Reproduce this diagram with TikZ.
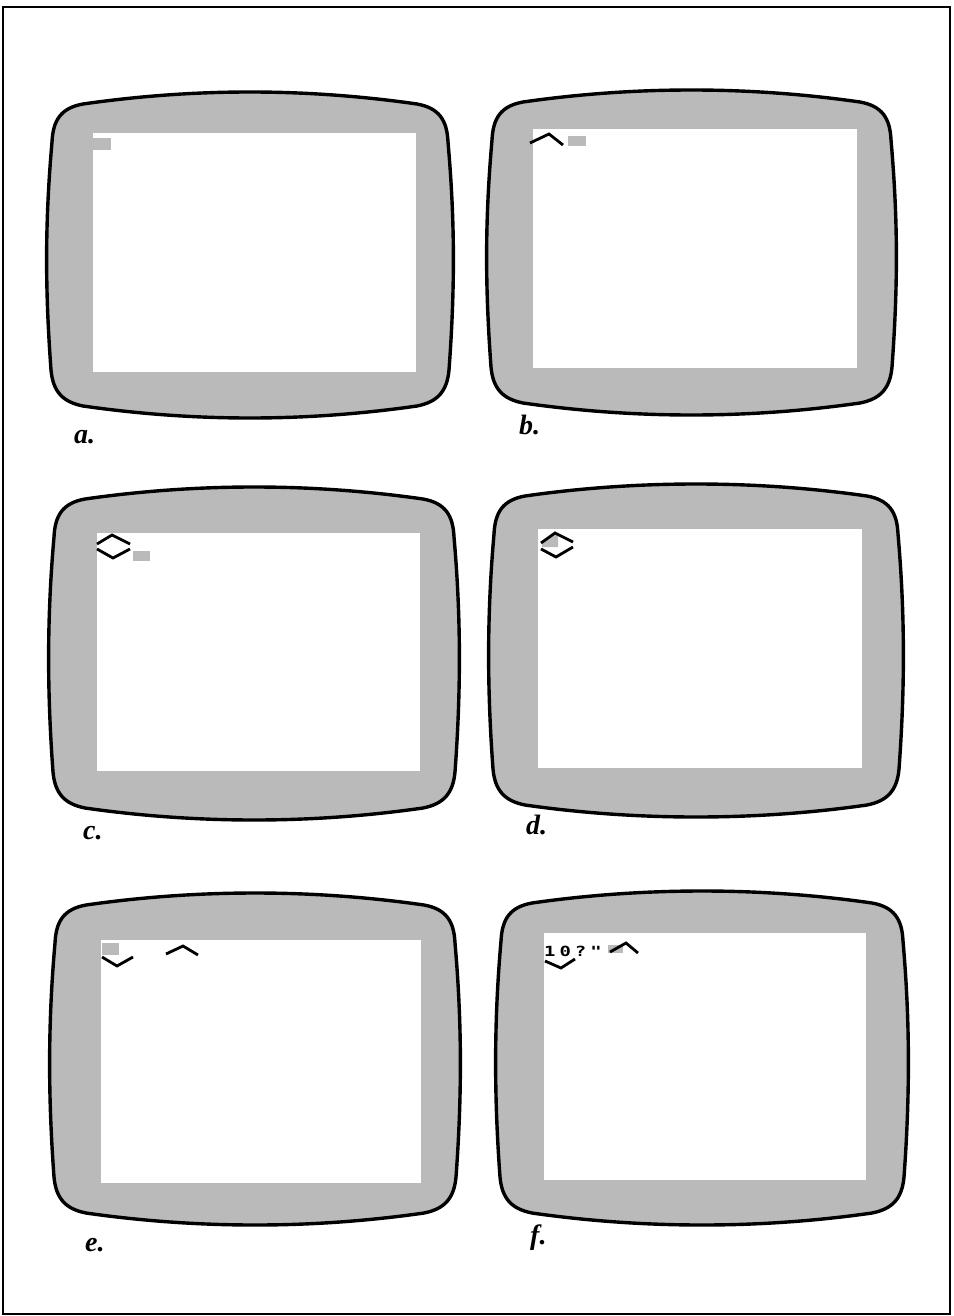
\documentclass[tikz,border=0pt]{standalone}
\usepackage{fontspec}
\setmainfont{Liberation Serif}
\newfontfamily\pixfont{DejaVu Sans Mono}
\definecolor{shade}{gray}{0.73}
\tikzset{
  bezel/.style={draw=black, line width=3.4pt, fill=shade, line join=round},
  screen/.style={fill=white, draw=none},
  cursorblk/.style={fill=shade, draw=none},
  glyph/.style={draw=black, line width=2.8pt, line join=miter, line cap=butt},
  panel/.style={font=\fontsize{28}{28}\selectfont\bfseries\itshape, anchor=base west, inner sep=0pt},
}
\newcommand\tvbezel[4]{%
  \path[bezel] ({#1+38},{#2+12}) .. controls ({#1+150},{#2-4}) and ({#3-150},{#2-4}) .. ({#3-38},{#2+12})
   .. controls ({#3-16},{#2+16}) and ({#3-8},{#2+28}) .. ({#3-7},{#2+50})
   .. controls ({#3},{#2+130}) and ({#3},{#4-130}) .. ({#3-6},{#4-48})
   .. controls ({#3-8},{#4-26}) and ({#3-18},{#4-16}) .. ({#3-38},{#4-12})
   .. controls ({#3-150},{#4+4}) and ({#1+150},{#4+4}) .. ({#1+38},{#4-12})
   .. controls ({#1+18},{#4-16}) and ({#1+8},{#4-26}) .. ({#1+6},{#4-48})
   .. controls ({#1},{#4-130}) and ({#1},{#2+130}) .. ({#1+7},{#2+50})
   .. controls ({#1+8},{#2+28}) and ({#1+16},{#2+16}) .. ({#1+38},{#2+12}) -- cycle;}
\begin{document}
\begin{tikzpicture}[x=1pt,y=-1pt]
\useasboundingbox (0,0) rectangle (953,1316);
\fill[white] (0,0) rectangle (953,1316);
\draw[line width=2pt] (3,7) rectangle (950,1314);

% a
\tvbezel{45}{92}{455}{418}
\fill[screen] (93,133) rectangle (416,372);
\fill[cursorblk] (93,138) rectangle (111,150);
\node[panel] (la) at (74,443) {a.};

% b
\tvbezel{485}{90}{898}{415}
\fill[screen] (533,129) rectangle (857,368);
\draw[glyph] (530,143) -- (549,134) -- (563,145);
\fill[cursorblk] (568,136) rectangle (586,146);
\node[panel] (lb) at (519,434) {b.};

% c
\tvbezel{47}{487}{461}{820}
\fill[screen] (97,533) rectangle (420,771);
\draw[glyph] (97,544) -- (112,535) -- (130,544);
\draw[glyph] (97,549) -- (113,558) -- (130,549);
\fill[cursorblk] (133,551) rectangle (150,561);
\node[panel] (lc) at (83,839) {c.};

% d
\tvbezel{487}{484}{905}{817}
\fill[screen] (538,529) rectangle (862,768);
\fill[cursorblk] (542,543) -- (555,534) -- (558,536) -- (558,547) -- (542,547) -- cycle;
\draw[glyph] (541,543) -- (555,533) -- (573,542);
\draw[glyph] (541,549) -- (556,557) -- (573,547);
\node[panel] (ld) at (526,834) {d.};

% e
\tvbezel{48}{893}{462}{1225}
\fill[screen] (101,940) rectangle (421,1183);
\fill[cursorblk] (102,943) rectangle (119,955);
\draw[glyph] (102,957) -- (117,966) -- (133,957);
\draw[glyph] (166,954) -- (183,946) -- (198,955);
\node[panel] (le) at (85,1251) {e.};

% f
\tvbezel{494}{891}{910}{1225}
\fill[screen] (544,933) rectangle (866,1180);
\node[font=\fontsize{14}{14}\pixfont\bfseries, anchor=base west, inner sep=0pt] (ft) at (544,956) {\scalebox{1.35}[1]{1}\kern4pt\scalebox{1.35}[1]{0}\kern4pt\scalebox{1.35}[1]{?}\kern4pt\scalebox{1.35}[1]{"}};
\fill[cursorblk] (608,945) rectangle (623,953);
\draw[glyph] (610,952) -- (626,943) -- (638,953);
\draw[glyph] (545,961) -- (561,968) -- (575,959);
\node[panel] (lf) at (530,1244) {f.};
\end{tikzpicture}
\end{document}
